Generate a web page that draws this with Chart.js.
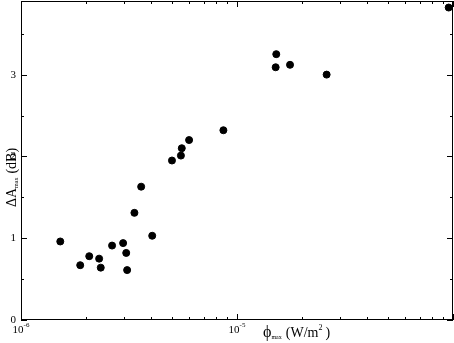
<!DOCTYPE html>
<html>
<head>
<meta charset="utf-8">
<script src="https://cdn.jsdelivr.net/npm/chart.js@4.4.1/dist/chart.umd.min.js"></script>
<style>
  html, body { margin: 0; padding: 0; background: #fff; }
  #wrap { width: 454px; height: 343px; }
</style>
</head>
<body>
<div id="wrap"><canvas id="chart" width="454" height="343"></canvas></div>
<script>
// phi_max (W/m^2) and delta A_max (dB)
const phiMax = [1.52e-6, 1.88e-6, 2.07e-6, 2.30e-6, 2.34e-6, 2.64e-6, 2.97e-6, 3.07e-6, 3.10e-6,
                3.35e-6, 3.60e-6, 4.05e-6, 5.0e-6, 5.5e-6, 5.55e-6, 6.0e-6, 8.65e-6,
                1.52e-5, 1.51e-5, 1.76e-5, 2.60e-5, 9.55e-5];
const deltaA = [0.96, 0.67, 0.78, 0.75, 0.64, 0.91, 0.94, 0.82, 0.61,
                1.31, 1.63, 1.03, 1.95, 2.01, 2.10, 2.20, 2.32,
                3.25, 3.09, 3.12, 3.00, 3.82];
const yTickLabels = ['0', '1', '2', '3'];
const xDecadeExp = ['-6', '-5'];

const points = phiMax.map((x, i) => ({ x: x, y: deltaA[i] }));
const serif = '"Liberation Serif", "DejaVu Serif", serif';

// frame, inward ticks and the axis text
const framePlugin = {
    id: 'frame',
    afterDraw(chart) {
        const ctx = chart.ctx;
        const a = chart.chartArea;
        const xs = chart.scales.x, ys = chart.scales.y;
        ctx.save();
        ctx.strokeStyle = '#000';
        ctx.lineWidth = 1;
        ctx.strokeRect(Math.round(a.left) + 0.5, Math.round(a.top) + 0.5,
            Math.round(a.right - a.left) - 1, Math.round(a.bottom - a.top) - 1);

        ctx.beginPath();
        xs.ticks.forEach(t => {
            const px = Math.round(xs.getPixelForValue(t.value)) + 0.5;
            const major = Math.abs(Math.log10(t.value) - Math.round(Math.log10(t.value))) < 1e-9;
            const len = major ? 6 : 3;
            ctx.moveTo(px, a.bottom); ctx.lineTo(px, a.bottom - len);
            ctx.moveTo(px, a.top); ctx.lineTo(px, a.top + len);
        });
        ys.ticks.forEach(t => {
            const py = Math.round(ys.getPixelForValue(t.value)) + 0.5;
            const len = Number.isInteger(t.value) ? 6 : 3;
            ctx.moveTo(a.left, py); ctx.lineTo(a.left + len, py);
            ctx.moveTo(a.right, py); ctx.lineTo(a.right - len, py);
        });
        ctx.stroke();

        ctx.fillStyle = '#000';
        // y tick labels
        ctx.font = '11px ' + serif;
        ctx.textAlign = 'right';
        ctx.textBaseline = 'middle';
        yTickLabels.forEach((lab, i) => {
            ctx.fillText(lab, a.left - 5, ys.getPixelForValue(i));
        });

        // x tick labels 10^n
        ctx.textBaseline = 'alphabetic';
        xDecadeExp.forEach(e => {
            const px = xs.getPixelForValue(Math.pow(10, Number(e)));
            ctx.font = '11px ' + serif;
            ctx.textAlign = 'left';
            const w = ctx.measureText('10').width;
            ctx.font = '7px ' + serif;
            const we = ctx.measureText(e).width;
            const x0 = px - (w + we) / 2;
            ctx.font = '11px ' + serif;
            ctx.fillText('10', x0, 333);
            ctx.font = '7px ' + serif;
            ctx.fillText(e, x0 + w, 327);
        });

        // x title
        ctx.textAlign = 'left';
        let x = 263;
        ctx.font = '16px ' + serif;
        ctx.fillText('\u03d5', x, 337); x += ctx.measureText('\u03d5').width;
        ctx.font = '6px ' + serif;
        ctx.fillText('max', x, 339); x += ctx.measureText('max').width + 4;
        ctx.font = '14px ' + serif;
        ctx.fillText('(W/m', x, 337); x += ctx.measureText('(W/m').width;
        ctx.font = '8px ' + serif;
        ctx.fillText('2', x, 330); x += ctx.measureText('2').width + 3;
        ctx.font = '14px ' + serif;
        ctx.fillText(')', x, 337);

        // y title, rotated
        ctx.translate(16, 207);
        ctx.rotate(-Math.PI / 2);
        let y = 0;
        ctx.font = '14px ' + serif;
        ctx.fillText('\u0394A', y, 0); y += ctx.measureText('\u0394A').width;
        ctx.font = '6px ' + serif;
        ctx.fillText('max', y, 2); y += ctx.measureText('max').width + 4;
        ctx.font = '14px ' + serif;
        ctx.fillText('(dB)', y, 0);
        ctx.restore();
    }
};

new Chart(document.getElementById('chart').getContext('2d'), {
    type: 'scatter',
    data: {
        datasets: [{
            label: 'dA',
            data: points,
            backgroundColor: '#000',
            borderColor: '#000',
            pointRadius: 3.5,
            pointHoverRadius: 3.5
        }]
    },
    options: {
        responsive: false,
        animation: false,
        events: [],
        layout: { padding: { left: 21, right: 1, top: 1, bottom: 23 }, autoPadding: false },
        plugins: { legend: { display: false }, tooltip: { enabled: false } },
        scales: {
            x: {
                type: 'logarithmic',
                min: 1e-6,
                max: 1e-4,
                grid: { display: false, drawTicks: false },
                border: { display: false },
                ticks: { display: false },
                afterBuildTicks(scale) {
                    const t = [];
                    for (let e = -6; e < -4; e++) {
                        for (let m = 1; m < 10; m++) t.push({ value: m * Math.pow(10, e) });
                    }
                    t.push({ value: 1e-4 });
                    scale.ticks = t;
                }
            },
            y: {
                min: 0,
                max: 3.9,
                grid: { display: false, drawTicks: false },
                border: { display: false },
                ticks: { display: false, stepSize: 0.5 }
            }
        }
    },
    plugins: [framePlugin]
});
</script>
</body>
</html>
